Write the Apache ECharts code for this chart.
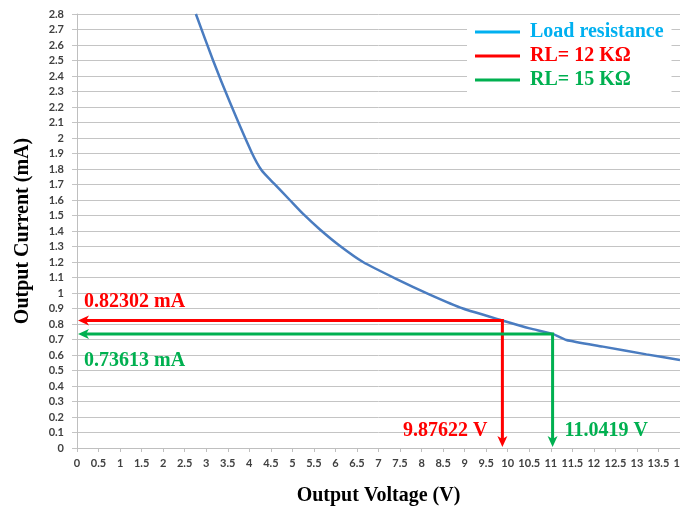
<!DOCTYPE html>
<html>
<head>
<meta charset="utf-8">
<script src="https://cdn.jsdelivr.net/npm/echarts@6/dist/echarts.min.js"></script>
<style>
  html, body { margin: 0; padding: 0; background: #fff; }
  #chart { width: 680px; height: 508px; }
</style>
</head>
<body>
<div id="chart"></div>
<script>
// Load resistance curve: output voltage (V) vs output current (mA)
const loadVoltage = [2.76, 3.16, 3.55, 4.05, 4.29, 4.56, 4.94, 5.25, 5.64, 6.10, 6.64, 7.42, 8.19, 8.96, 9.87622, 10.51, 11.0419, 11.36, 12.21, 13.22, 14.0];
const loadCurrent = [2.80, 2.50, 2.23, 1.91, 1.79, 1.71, 1.60, 1.51, 1.41, 1.305, 1.20, 1.09, 0.99, 0.90, 0.82302, 0.772, 0.73613, 0.697, 0.654, 0.604, 0.568];

// Operating points for the two load resistors
const rlNames = ['RL= 12 KΩ', 'RL= 15 KΩ'];
const rlVoltage = [9.87622, 11.0419];
const rlCurrent = [0.82302, 0.73613];

const seriesNames = ['Load resistance', rlNames[0], rlNames[1]];

const curveColor = '#4a7cc0';
const legendBlue = '#00b0f0';
const red = '#ff0000';
const green = '#00b050';
const gridGray = '#c4c4c4';
const labelFont = 'bold 20px "Liberation Serif"';

// Label placement for each operating point: current label offset (vertical),
// voltage label side relative to the drop line
const rlLabelLayout = [
  { currentDy: -19, voltSide: 'left' },
  { currentDy: 27, voltSide: 'right' }
];

function operatingPointSeries(k, color) {
  return {
    type: 'custom',
    name: rlNames[k],
    coordinateSystem: 'cartesian2d',
    itemStyle: { color: color },
    z: 4,
    data: [[rlVoltage[k], rlCurrent[k]]],
    renderItem: function (params, api) {
      const v = api.value(0);
      const i = api.value(1);
      const corner = api.coord([v, i]);
      const left = api.coord([0, i]);
      const bottom = api.coord([v, 0]);
      const L = 12, W = 5;
      const layout = rlLabelLayout[k];
      const voltLeft = layout.voltSide === 'left';
      return {
        type: 'group',
        children: [
          {
            type: 'polyline',
            shape: { points: [[left[0] + L - 3, corner[1]], [corner[0], corner[1]], [corner[0], bottom[1] - L + 3]] },
            style: { stroke: color, lineWidth: 3, fill: null }
          },
          {
            type: 'polygon',
            shape: { points: [[left[0] + 1, left[1]], [left[0] + L, left[1] - W], [left[0] + L - 3, left[1]], [left[0] + L, left[1] + W]] },
            style: { fill: color }
          },
          {
            type: 'polygon',
            shape: { points: [[bottom[0], bottom[1] - 1], [bottom[0] - W, bottom[1] - L], [bottom[0], bottom[1] - L + 3], [bottom[0] + W, bottom[1] - L]] },
            style: { fill: color }
          },
          {
            type: 'text',
            x: left[0] + 7,
            y: corner[1] + layout.currentDy,
            style: {
              text: String(i) + ' mA',
              fill: color,
              font: labelFont,
              align: 'left',
              verticalAlign: 'middle'
            }
          },
          {
            type: 'text',
            x: voltLeft ? corner[0] - 15 : corner[0] + 12,
            y: bottom[1] - 17,
            style: {
              text: String(v) + ' V',
              fill: color,
              font: labelFont,
              align: voltLeft ? 'right' : 'left',
              verticalAlign: 'middle'
            }
          }
        ]
      };
    }
  };
}

const tickLabelStyle = {
  color: '#404040',
  fontFamily: 'Lato',
  fontWeight: 'bold',
  fontSize: 11
};

const titleStyle = {
  color: '#000',
  fontFamily: 'Liberation Serif',
  fontWeight: 'bold',
  fontSize: 20
};

const chart = echarts.init(document.getElementById('chart'), null, { renderer: 'canvas' });

chart.setOption({
  animation: false,
  backgroundColor: '#fff',
  grid: { left: 77, right: 0, top: 14, bottom: 60, containLabel: false, outerBoundsMode: 'none' },
  legend: {
    orient: 'vertical',
    left: 467,
    top: 17,
    backgroundColor: '#fff',
    padding: [5, 8, 3, 8],
    itemGap: 4,
    itemWidth: 45,
    itemHeight: 3,
    icon: 'rect',
    selectedMode: false,
    textStyle: { fontFamily: 'Liberation Serif', fontWeight: 'bold', fontSize: 20, padding: [0, 0, 0, 5] },
    data: [
      { name: seriesNames[0], itemStyle: { color: legendBlue }, textStyle: { color: legendBlue } },
      { name: seriesNames[1], itemStyle: { color: red }, textStyle: { color: red } },
      { name: seriesNames[2], itemStyle: { color: green }, textStyle: { color: green } }
    ]
  },
  xAxis: {
    type: 'value',
    min: 0,
    max: 14,
    interval: 0.5,
    name: 'Output Voltage (V)',
    nameLocation: 'middle',
    nameGap: 38,
    nameTextStyle: titleStyle,
    axisLine: { show: true, lineStyle: { color: '#bfbfbf', width: 1 } },
    axisTick: { show: true, length: 4, lineStyle: { color: '#bfbfbf' } },
    axisLabel: Object.assign({ margin: 10 }, tickLabelStyle),
    splitLine: { show: false }
  },
  yAxis: {
    type: 'value',
    min: 0,
    max: 2.8,
    interval: 0.1,
    name: 'Output Current (mA)',
    nameLocation: 'middle',
    nameGap: 44,
    nameTextStyle: titleStyle,
    axisLine: { show: true, lineStyle: { color: '#bfbfbf', width: 1 } },
    axisTick: { show: true, length: 5, lineStyle: { color: gridGray } },
    axisLabel: Object.assign({ margin: 13 }, tickLabelStyle),
    splitLine: { show: true, lineStyle: { color: gridGray, width: 1 } }
  },
  series: [
    {
      type: 'line',
      name: seriesNames[0],
      data: loadVoltage.map(function (v, idx) { return [v, loadCurrent[idx]]; }),
      showSymbol: false,
      symbol: 'none',
      smooth: 0.2,
      z: 3,
      itemStyle: { color: curveColor },
      lineStyle: { color: curveColor, width: 2.5 }
    },
    operatingPointSeries(0, red),
    operatingPointSeries(1, green)
  ]
});
</script>
</body>
</html>
